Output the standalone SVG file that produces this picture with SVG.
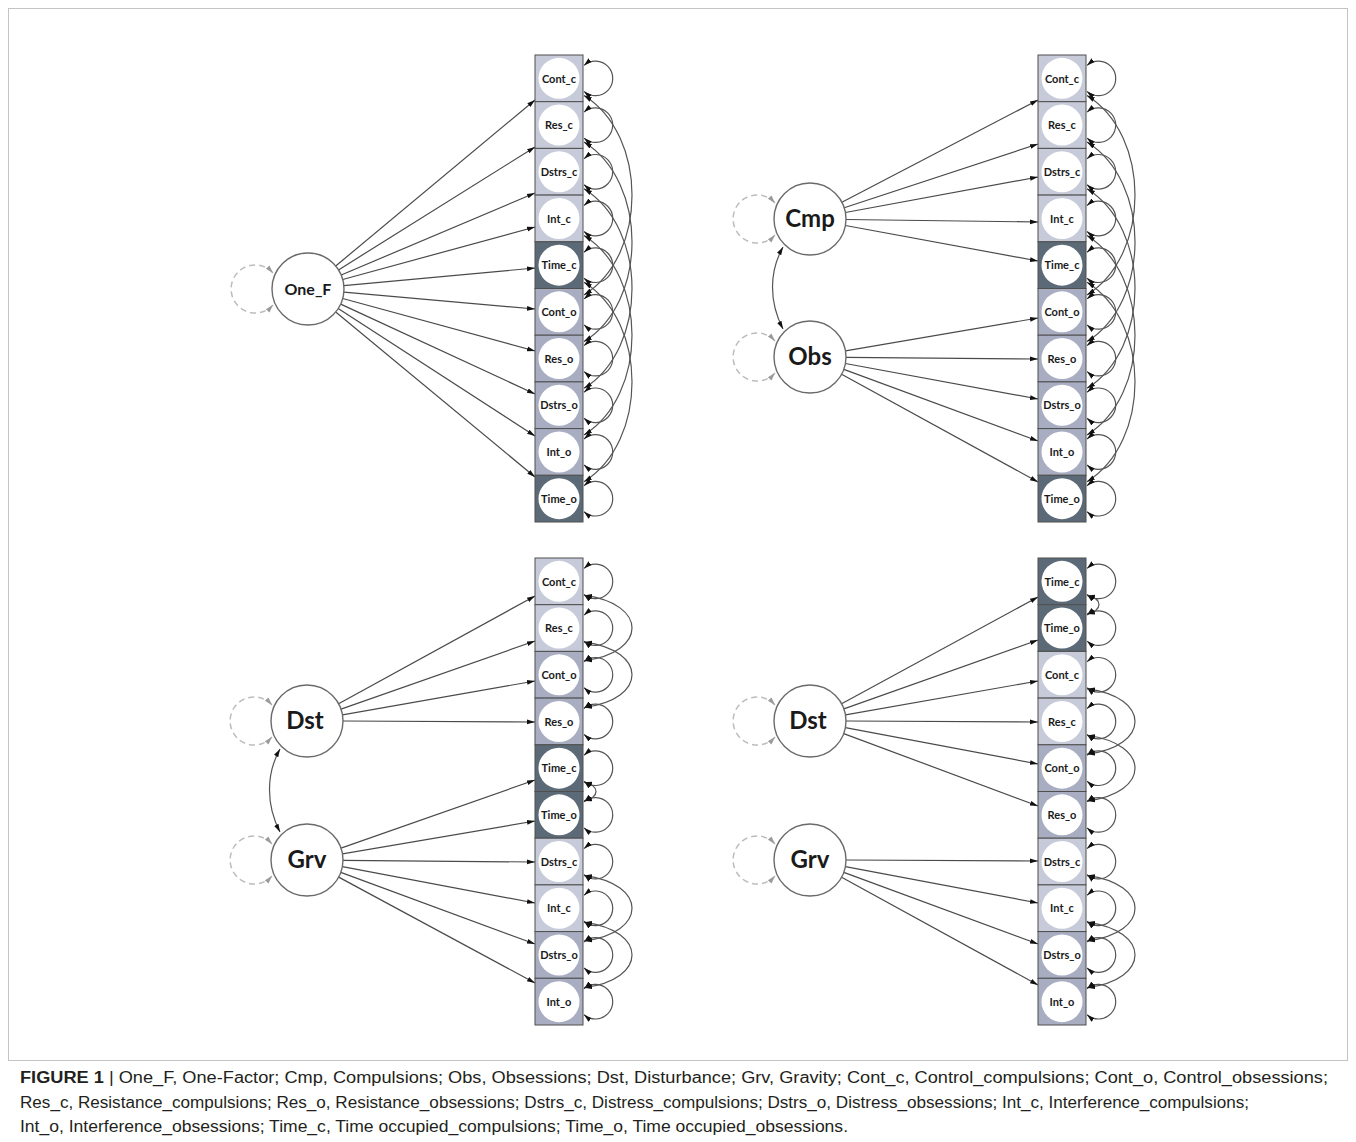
<svg xmlns="http://www.w3.org/2000/svg" width="1356" height="1142" viewBox="0 0 1356 1142">
<style>
.frame{fill:none;stroke:#c4c4c4;stroke-width:1}
.lt{fill:#c7cbd9;stroke:#4f4f4f;stroke-width:1}
.md{fill:#a8adc1;stroke:#4f4f4f;stroke-width:1}
.dk{fill:#5c6a77;stroke:#4f4f4f;stroke-width:1}
.inner{fill:#fff;stroke:none}
.lbl{font-family:Lato,"Open Sans","Liberation Sans",sans-serif;font-weight:700;font-size:11px;text-anchor:middle;fill:#1a1a1a}
.fac{fill:#fff;stroke:#6a6a6a;stroke-width:1.4}
.ft{font-family:Lato,"Open Sans","Liberation Sans",sans-serif;font-weight:700;font-size:24px;text-anchor:middle;fill:#1a1a1a}
.ft2{font-family:Lato,"Open Sans","Liberation Sans",sans-serif;font-weight:700;font-size:16px;text-anchor:middle;fill:#1a1a1a}
.ld{fill:none;stroke:#4a4a4a;stroke-width:1.2;marker-end:url(#ah)}
.cv{fill:none;stroke:#555;stroke-width:1.2;marker-start:url(#ah);marker-end:url(#ah)}
.dv{fill:none;stroke:#bdbdbd;stroke-width:1.5;stroke-dasharray:6 4;marker-start:url(#ahg);marker-end:url(#ahg)}
.cap{font-family:"Liberation Sans",Arial,sans-serif;font-size:16px;fill:#231f20}
</style>
<defs>
<marker id="ah" viewBox="0 0 10 10" refX="10" refY="5" markerWidth="8" markerHeight="8" markerUnits="userSpaceOnUse" orient="auto-start-reverse"><path d="M0,2 L10,5 L0,8 z" fill="#111"/></marker>
<marker id="ahg" viewBox="0 0 10 10" refX="10" refY="5" markerWidth="8" markerHeight="8" markerUnits="userSpaceOnUse" orient="auto-start-reverse"><path d="M0,2 L10,5 L0,8 z" fill="#9a9a9a"/></marker>
</defs>
<rect x="0" y="0" width="1356" height="1142" fill="#fff"/>
<rect class="frame" x="8.5" y="8.5" width="1339" height="1052"/>

<g id="connectors">
<path class="ld" d="M335.7 266 L535 100"/>
<path class="ld" d="M338.5 269.9 L535 147"/>
<path class="ld" d="M341.2 275 L535 193"/>
<path class="ld" d="M342.7 279.5 L535 227"/>
<path class="ld" d="M343.8 285.7 L535 268"/>
<path class="ld" d="M343.9 292.2 L535 309"/>
<path class="ld" d="M342.7 298.5 L535 351"/>
<path class="ld" d="M340.7 304.1 L535 394"/>
<path class="ld" d="M338.2 308.6 L535 436"/>
<path class="ld" d="M335.7 312 L535 477"/>
<path class="ld" d="M841.9 202.3 L1038 100"/>
<path class="ld" d="M844.2 207.8 L1038 144"/>
<path class="ld" d="M845.4 212.5 L1038 177"/>
<path class="ld" d="M846 219.5 L1038 222"/>
<path class="ld" d="M845.4 225.5 L1038 261"/>
<path class="ld" d="M845.5 350.9 L1038 318"/>
<path class="ld" d="M846 357.3 L1038 359"/>
<path class="ld" d="M845.4 363.5 L1038 399"/>
<path class="ld" d="M843.8 369.4 L1038 441"/>
<path class="ld" d="M841.6 374.3 L1038 482"/>
<path class="ld" d="M338.6 703.7 L535 596"/>
<path class="ld" d="M341 709.1 L535 641"/>
<path class="ld" d="M342.5 714.8 L535 681"/>
<path class="ld" d="M343 721 L535 722"/>
<path class="ld" d="M341 848.1 L535 780"/>
<path class="ld" d="M342.5 853.9 L535 821"/>
<path class="ld" d="M343 860.3 L535 862"/>
<path class="ld" d="M342.4 866.7 L535 903"/>
<path class="ld" d="M340.8 872.4 L535 944"/>
<path class="ld" d="M338.7 877.1 L535 983"/>
<path class="ld" d="M841.6 703.8 L1038 597"/>
<path class="ld" d="M843.9 708.9 L1038 640"/>
<path class="ld" d="M845.5 714.8 L1038 681"/>
<path class="ld" d="M846 721 L1038 722"/>
<path class="ld" d="M845.4 727.7 L1038 764"/>
<path class="ld" d="M843.7 733.6 L1038 806"/>
<path class="ld" d="M846 860 L1038 861"/>
<path class="ld" d="M845.4 866.7 L1038 903"/>
<path class="ld" d="M843.8 872.4 L1038 944"/>
<path class="ld" d="M841.6 877.3 L1038 985"/>

<path class="dv" d="M273 273 A24 24 0 1 0 273 305"/>
<path class="dv" d="M775 203 A24 24 0 1 0 775 235"/>
<path class="dv" d="M775 341 A24 24 0 1 0 775 373"/>
<path class="dv" d="M272 705 A24 24 0 1 0 272 737"/>
<path class="dv" d="M272 844 A24 24 0 1 0 272 876"/>
<path class="dv" d="M775 705 A24 24 0 1 0 775 737"/>
<path class="dv" d="M775 844 A24 24 0 1 0 775 876"/>

<path class="cv" d="M783 247 C769 272 769 302 783 329"/>
<path class="cv" d="M280 749 C266 774 266 805 280 832"/>

<path class="cv" d="M584 65.4 A17.3 17.3 0 1 1 584 91.4"/>
<path class="cv" d="M584 112.1 A17.3 17.3 0 1 1 584 138.1"/>
<path class="cv" d="M584 158.8 A17.3 17.3 0 1 1 584 184.8"/>
<path class="cv" d="M584 205.5 A17.3 17.3 0 1 1 584 231.5"/>
<path class="cv" d="M584 252.2 A17.3 17.3 0 1 1 584 278.2"/>
<path class="cv" d="M584 298.9 A17.3 17.3 0 1 1 584 324.9"/>
<path class="cv" d="M584 345.6 A17.3 17.3 0 1 1 584 371.6"/>
<path class="cv" d="M584 392.3 A17.3 17.3 0 1 1 584 418.3"/>
<path class="cv" d="M584 439 A17.3 17.3 0 1 1 584 465"/>
<path class="cv" d="M584 485.7 A17.3 17.3 0 1 1 584 511.7"/>
<path class="cv" d="M584 95.4 C648 135.4 648 254.9 584 294.9"/>
<path class="cv" d="M584 142.1 C648 182.1 648 301.6 584 341.6"/>
<path class="cv" d="M584 188.8 C648 228.8 648 348.3 584 388.3"/>
<path class="cv" d="M584 235.5 C648 275.5 648 395 584 435"/>
<path class="cv" d="M584 282.2 C648 322.2 648 441.7 584 481.7"/>

<path class="cv" d="M1087 65.4 A17.3 17.3 0 1 1 1087 91.4"/>
<path class="cv" d="M1087 112.1 A17.3 17.3 0 1 1 1087 138.1"/>
<path class="cv" d="M1087 158.8 A17.3 17.3 0 1 1 1087 184.8"/>
<path class="cv" d="M1087 205.5 A17.3 17.3 0 1 1 1087 231.5"/>
<path class="cv" d="M1087 252.2 A17.3 17.3 0 1 1 1087 278.2"/>
<path class="cv" d="M1087 298.9 A17.3 17.3 0 1 1 1087 324.9"/>
<path class="cv" d="M1087 345.6 A17.3 17.3 0 1 1 1087 371.6"/>
<path class="cv" d="M1087 392.3 A17.3 17.3 0 1 1 1087 418.3"/>
<path class="cv" d="M1087 439 A17.3 17.3 0 1 1 1087 465"/>
<path class="cv" d="M1087 485.7 A17.3 17.3 0 1 1 1087 511.7"/>
<path class="cv" d="M1087 95.4 C1151 135.4 1151 254.9 1087 294.9"/>
<path class="cv" d="M1087 142.1 C1151 182.1 1151 301.6 1087 341.6"/>
<path class="cv" d="M1087 188.8 C1151 228.8 1151 348.3 1087 388.3"/>
<path class="cv" d="M1087 235.5 C1151 275.5 1151 395 1087 435"/>
<path class="cv" d="M1087 282.2 C1151 322.2 1151 441.7 1087 481.7"/>

<path class="cv" d="M584 568.4 A17.3 17.3 0 1 1 584 594.4"/>
<path class="cv" d="M584 615.1 A17.3 17.3 0 1 1 584 641.1"/>
<path class="cv" d="M584 661.8 A17.3 17.3 0 1 1 584 687.8"/>
<path class="cv" d="M584 708.5 A17.3 17.3 0 1 1 584 734.5"/>
<path class="cv" d="M584 755.2 A17.3 17.3 0 1 1 584 781.2"/>
<path class="cv" d="M584 801.9 A17.3 17.3 0 1 1 584 827.9"/>
<path class="cv" d="M584 848.6 A17.3 17.3 0 1 1 584 874.6"/>
<path class="cv" d="M584 895.3 A17.3 17.3 0 1 1 584 921.3"/>
<path class="cv" d="M584 942 A17.3 17.3 0 1 1 584 968"/>
<path class="cv" d="M584 988.7 A17.3 17.3 0 1 1 584 1014.7"/>
<path class="cv" d="M584 595.4 C648 603.4 648 652.8 584 660.8"/>
<path class="cv" d="M584 642.1 C648 650.1 648 699.5 584 707.5"/>
<path class="cv" d="M584 782.2 C600 786 600 797 584 800.9"/>
<path class="cv" d="M584 875.6 C648 883.6 648 933 584 941"/>
<path class="cv" d="M584 922.3 C648 930.3 648 979.7 584 987.7"/>

<path class="cv" d="M1087 568.4 A17.3 17.3 0 1 1 1087 594.4"/>
<path class="cv" d="M1087 615.1 A17.3 17.3 0 1 1 1087 641.1"/>
<path class="cv" d="M1087 661.8 A17.3 17.3 0 1 1 1087 687.8"/>
<path class="cv" d="M1087 708.5 A17.3 17.3 0 1 1 1087 734.5"/>
<path class="cv" d="M1087 755.2 A17.3 17.3 0 1 1 1087 781.2"/>
<path class="cv" d="M1087 801.9 A17.3 17.3 0 1 1 1087 827.9"/>
<path class="cv" d="M1087 848.6 A17.3 17.3 0 1 1 1087 874.6"/>
<path class="cv" d="M1087 895.3 A17.3 17.3 0 1 1 1087 921.3"/>
<path class="cv" d="M1087 942 A17.3 17.3 0 1 1 1087 968"/>
<path class="cv" d="M1087 988.7 A17.3 17.3 0 1 1 1087 1014.7"/>
<path class="cv" d="M1087 595.4 C1103 599 1103 610 1087 614.1"/>
<path class="cv" d="M1087 688.8 C1151 696.8 1151 746.2 1087 754.2"/>
<path class="cv" d="M1087 735.5 C1151 743.5 1151 792.9 1087 800.9"/>
<path class="cv" d="M1087 875.6 C1151 883.6 1151 933 1087 941"/>
<path class="cv" d="M1087 922.3 C1151 930.3 1151 979.7 1087 987.7"/>
</g>

<g id="tl-one-f"><circle class="fac" cx="308" cy="289" r="36"/><text class="ft2" x="308" y="295">One_F</text></g>
<g id="tr-cmp"><circle class="fac" cx="810" cy="219" r="36"/><text class="ft" x="810" y="227">Cmp</text></g>
<g id="tr-obs"><circle class="fac" cx="810" cy="357" r="36"/><text class="ft" x="810" y="365">Obs</text></g>
<g id="bl-dst"><circle class="fac" cx="307" cy="721" r="36"/><text class="ft" x="305" y="729">Dst</text></g>
<g id="bl-grv"><circle class="fac" cx="307" cy="860" r="36"/><text class="ft" x="307" y="868">Grv</text></g>
<g id="br-dst"><circle class="fac" cx="810" cy="721" r="36"/><text class="ft" x="808" y="729">Dst</text></g>
<g id="br-grv"><circle class="fac" cx="810" cy="860" r="36"/><text class="ft" x="810" y="868">Grv</text></g>

<g id="tl-cont-c" transform="translate(535,55)"><rect class="lt" width="48" height="46.7"/><circle class="inner" cx="24" cy="23.35" r="20.5"/><text class="lbl" x="24" y="27.5">Cont_c</text></g>
<g id="tl-res-c" transform="translate(535,101.7)"><rect class="lt" width="48" height="46.7"/><circle class="inner" cx="24" cy="23.35" r="20.5"/><text class="lbl" x="24" y="27.5">Res_c</text></g>
<g id="tl-dstrs-c" transform="translate(535,148.4)"><rect class="lt" width="48" height="46.7"/><circle class="inner" cx="24" cy="23.35" r="20.5"/><text class="lbl" x="24" y="27.5">Dstrs_c</text></g>
<g id="tl-int-c" transform="translate(535,195.1)"><rect class="lt" width="48" height="46.7"/><circle class="inner" cx="24" cy="23.35" r="20.5"/><text class="lbl" x="24" y="27.5">Int_c</text></g>
<g id="tl-time-c" transform="translate(535,241.8)"><rect class="dk" width="48" height="46.7"/><circle class="inner" cx="24" cy="23.35" r="20.5"/><text class="lbl" x="24" y="27.5">Time_c</text></g>
<g id="tl-cont-o" transform="translate(535,288.5)"><rect class="md" width="48" height="46.7"/><circle class="inner" cx="24" cy="23.35" r="20.5"/><text class="lbl" x="24" y="27.5">Cont_o</text></g>
<g id="tl-res-o" transform="translate(535,335.2)"><rect class="md" width="48" height="46.7"/><circle class="inner" cx="24" cy="23.35" r="20.5"/><text class="lbl" x="24" y="27.5">Res_o</text></g>
<g id="tl-dstrs-o" transform="translate(535,381.9)"><rect class="md" width="48" height="46.7"/><circle class="inner" cx="24" cy="23.35" r="20.5"/><text class="lbl" x="24" y="27.5">Dstrs_o</text></g>
<g id="tl-int-o" transform="translate(535,428.6)"><rect class="md" width="48" height="46.7"/><circle class="inner" cx="24" cy="23.35" r="20.5"/><text class="lbl" x="24" y="27.5">Int_o</text></g>
<g id="tl-time-o" transform="translate(535,475.3)"><rect class="dk" width="48" height="46.7"/><circle class="inner" cx="24" cy="23.35" r="20.5"/><text class="lbl" x="24" y="27.5">Time_o</text></g>

<g id="tr-cont-c" transform="translate(1038,55)"><rect class="lt" width="48" height="46.7"/><circle class="inner" cx="24" cy="23.35" r="20.5"/><text class="lbl" x="24" y="27.5">Cont_c</text></g>
<g id="tr-res-c" transform="translate(1038,101.7)"><rect class="lt" width="48" height="46.7"/><circle class="inner" cx="24" cy="23.35" r="20.5"/><text class="lbl" x="24" y="27.5">Res_c</text></g>
<g id="tr-dstrs-c" transform="translate(1038,148.4)"><rect class="lt" width="48" height="46.7"/><circle class="inner" cx="24" cy="23.35" r="20.5"/><text class="lbl" x="24" y="27.5">Dstrs_c</text></g>
<g id="tr-int-c" transform="translate(1038,195.1)"><rect class="lt" width="48" height="46.7"/><circle class="inner" cx="24" cy="23.35" r="20.5"/><text class="lbl" x="24" y="27.5">Int_c</text></g>
<g id="tr-time-c" transform="translate(1038,241.8)"><rect class="dk" width="48" height="46.7"/><circle class="inner" cx="24" cy="23.35" r="20.5"/><text class="lbl" x="24" y="27.5">Time_c</text></g>
<g id="tr-cont-o" transform="translate(1038,288.5)"><rect class="md" width="48" height="46.7"/><circle class="inner" cx="24" cy="23.35" r="20.5"/><text class="lbl" x="24" y="27.5">Cont_o</text></g>
<g id="tr-res-o" transform="translate(1038,335.2)"><rect class="md" width="48" height="46.7"/><circle class="inner" cx="24" cy="23.35" r="20.5"/><text class="lbl" x="24" y="27.5">Res_o</text></g>
<g id="tr-dstrs-o" transform="translate(1038,381.9)"><rect class="md" width="48" height="46.7"/><circle class="inner" cx="24" cy="23.35" r="20.5"/><text class="lbl" x="24" y="27.5">Dstrs_o</text></g>
<g id="tr-int-o" transform="translate(1038,428.6)"><rect class="md" width="48" height="46.7"/><circle class="inner" cx="24" cy="23.35" r="20.5"/><text class="lbl" x="24" y="27.5">Int_o</text></g>
<g id="tr-time-o" transform="translate(1038,475.3)"><rect class="dk" width="48" height="46.7"/><circle class="inner" cx="24" cy="23.35" r="20.5"/><text class="lbl" x="24" y="27.5">Time_o</text></g>

<g id="bl-cont-c" transform="translate(535,558)"><rect class="lt" width="48" height="46.7"/><circle class="inner" cx="24" cy="23.35" r="20.5"/><text class="lbl" x="24" y="27.5">Cont_c</text></g>
<g id="bl-res-c" transform="translate(535,604.7)"><rect class="lt" width="48" height="46.7"/><circle class="inner" cx="24" cy="23.35" r="20.5"/><text class="lbl" x="24" y="27.5">Res_c</text></g>
<g id="bl-cont-o" transform="translate(535,651.4)"><rect class="md" width="48" height="46.7"/><circle class="inner" cx="24" cy="23.35" r="20.5"/><text class="lbl" x="24" y="27.5">Cont_o</text></g>
<g id="bl-res-o" transform="translate(535,698.1)"><rect class="md" width="48" height="46.7"/><circle class="inner" cx="24" cy="23.35" r="20.5"/><text class="lbl" x="24" y="27.5">Res_o</text></g>
<g id="bl-time-c" transform="translate(535,744.8)"><rect class="dk" width="48" height="46.7"/><circle class="inner" cx="24" cy="23.35" r="20.5"/><text class="lbl" x="24" y="27.5">Time_c</text></g>
<g id="bl-time-o" transform="translate(535,791.5)"><rect class="dk" width="48" height="46.7"/><circle class="inner" cx="24" cy="23.35" r="20.5"/><text class="lbl" x="24" y="27.5">Time_o</text></g>
<g id="bl-dstrs-c" transform="translate(535,838.2)"><rect class="lt" width="48" height="46.7"/><circle class="inner" cx="24" cy="23.35" r="20.5"/><text class="lbl" x="24" y="27.5">Dstrs_c</text></g>
<g id="bl-int-c" transform="translate(535,884.9)"><rect class="lt" width="48" height="46.7"/><circle class="inner" cx="24" cy="23.35" r="20.5"/><text class="lbl" x="24" y="27.5">Int_c</text></g>
<g id="bl-dstrs-o" transform="translate(535,931.6)"><rect class="md" width="48" height="46.7"/><circle class="inner" cx="24" cy="23.35" r="20.5"/><text class="lbl" x="24" y="27.5">Dstrs_o</text></g>
<g id="bl-int-o" transform="translate(535,978.3)"><rect class="md" width="48" height="46.7"/><circle class="inner" cx="24" cy="23.35" r="20.5"/><text class="lbl" x="24" y="27.5">Int_o</text></g>

<g id="br-time-c" transform="translate(1038,558)"><rect class="dk" width="48" height="46.7"/><circle class="inner" cx="24" cy="23.35" r="20.5"/><text class="lbl" x="24" y="27.5">Time_c</text></g>
<g id="br-time-o" transform="translate(1038,604.7)"><rect class="dk" width="48" height="46.7"/><circle class="inner" cx="24" cy="23.35" r="20.5"/><text class="lbl" x="24" y="27.5">Time_o</text></g>
<g id="br-cont-c" transform="translate(1038,651.4)"><rect class="lt" width="48" height="46.7"/><circle class="inner" cx="24" cy="23.35" r="20.5"/><text class="lbl" x="24" y="27.5">Cont_c</text></g>
<g id="br-res-c" transform="translate(1038,698.1)"><rect class="lt" width="48" height="46.7"/><circle class="inner" cx="24" cy="23.35" r="20.5"/><text class="lbl" x="24" y="27.5">Res_c</text></g>
<g id="br-cont-o" transform="translate(1038,744.8)"><rect class="md" width="48" height="46.7"/><circle class="inner" cx="24" cy="23.35" r="20.5"/><text class="lbl" x="24" y="27.5">Cont_o</text></g>
<g id="br-res-o" transform="translate(1038,791.5)"><rect class="md" width="48" height="46.7"/><circle class="inner" cx="24" cy="23.35" r="20.5"/><text class="lbl" x="24" y="27.5">Res_o</text></g>
<g id="br-dstrs-c" transform="translate(1038,838.2)"><rect class="lt" width="48" height="46.7"/><circle class="inner" cx="24" cy="23.35" r="20.5"/><text class="lbl" x="24" y="27.5">Dstrs_c</text></g>
<g id="br-int-c" transform="translate(1038,884.9)"><rect class="lt" width="48" height="46.7"/><circle class="inner" cx="24" cy="23.35" r="20.5"/><text class="lbl" x="24" y="27.5">Int_c</text></g>
<g id="br-dstrs-o" transform="translate(1038,931.6)"><rect class="md" width="48" height="46.7"/><circle class="inner" cx="24" cy="23.35" r="20.5"/><text class="lbl" x="24" y="27.5">Dstrs_o</text></g>
<g id="br-int-o" transform="translate(1038,978.3)"><rect class="md" width="48" height="46.7"/><circle class="inner" cx="24" cy="23.35" r="20.5"/><text class="lbl" x="24" y="27.5">Int_o</text></g>

<g id="caption">
<text class="cap" x="20" y="1083" textLength="1308" lengthAdjust="spacingAndGlyphs"><tspan font-weight="700">FIGURE 1</tspan> | One_F, One-Factor; Cmp, Compulsions; Obs, Obsessions; Dst, Disturbance; Grv, Gravity; Cont_c, Control_compulsions; Cont_o, Control_obsessions;</text>
<text class="cap" x="20" y="1108" textLength="1229" lengthAdjust="spacingAndGlyphs">Res_c, Resistance_compulsions; Res_o, Resistance_obsessions; Dstrs_c, Distress_compulsions; Dstrs_o, Distress_obsessions; Int_c, Interference_compulsions;</text>
<text class="cap" x="20" y="1132" textLength="828" lengthAdjust="spacingAndGlyphs">Int_o, Interference_obsessions; Time_c, Time occupied_compulsions; Time_o, Time occupied_obsessions.</text>
</g>
</svg>
